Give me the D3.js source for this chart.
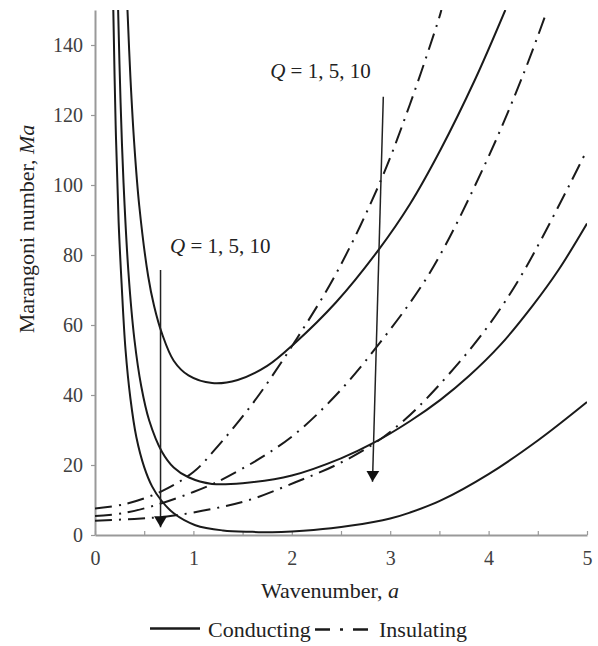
<!DOCTYPE html>
<html>
<head>
<meta charset="utf-8">
<script src="https://cdn.jsdelivr.net/npm/d3@7"></script>
<style>
  body { margin: 0; background: #fff; }
  svg { font-family: "Liberation Serif", "Times New Roman", serif; }
</style>
</head>
<body>
<div id="chart"></div>
<script>
// wavenumber a vs Marangoni number Ma
// conducting (solid) curves
const condQ1 = [[0.33,150],[0.36,130.7],[0.4,111.3],[0.45,94],[0.54,74],[0.6,65.5],[0.68,57.6],[0.8,49.8],
  [0.95,45.6],[1.19,43.4],[1.45,44.3],[1.75,48.3],[2.03,54.8],[2.45,66.5],[2.88,81.4],[3.2,94.5],
  [3.51,110],[3.86,130],[4.17,150]];
const condQ5 = [[0.235,150],[0.26,123.5],[0.29,100.6],[0.34,75],[0.4,56],[0.47,42.5],[0.55,32.8],[0.68,23.8],
  [0.8,19.3],[0.95,16.5],[1.19,14.6],[1.5,14.8],[2.0,17],[2.5,21.9],[2.83,26.3],[3.2,32.5],[3.51,38.6],
  [3.8,45.4],[4.12,54.3],[4.45,65.6],[4.71,75.7],[5.0,89]];
const condQ10 = [[0.186,150],[0.21,117],[0.24,89.5],[0.27,72],[0.31,53],[0.36,39],[0.42,28],[0.5,19.4],
  [0.58,13.9],[0.67,10],[0.8,6.2],[1.02,2.8],[1.3,1.3],[1.6,0.9],[1.8,0.8],[2.0,1.0],[2.4,1.9],
  [2.83,3.7],[3.0,4.7],[3.2,6.4],[3.51,9.8],[4.0,17.4],[4.5,27],[5.0,38]];
// insulating (dash-dot) curves
const insQ1 = [[0,7.6],[0.3,8.8],[0.67,12.4],[1.0,18],[1.2,23.8],[1.6,37.5],[2.03,55.2],[2.46,75.2],
  [2.9,101],[3.2,123],[3.5,148],[3.52,150]];
const insQ5 = [[0,5.4],[0.3,6.3],[0.67,9],[1.0,12.3],[1.2,14.6],[1.29,15.8],[1.7,22.3],[2.04,29],
  [2.45,40],[2.85,53.3],[3.4,74.8],[3.96,105.7],[4.35,131.4],[4.59,149.5]];
const insQ10 = [[0,4.1],[0.4,4.6],[0.73,5.3],[1.2,7.5],[1.6,10.3],[2.03,15],[2.45,20],[2.83,26],
  [3.15,33],[3.47,42],[3.95,58],[4.35,75],[5.0,110]];

// arrows: [start, end] in (a, Ma)
const arrowLow = [[0.666,75.7],[0.666,2.2]];
const arrowHigh = [[2.93,125.2],[2.82,15.2]];

const xTicks = [0, 0.5, 1, 1.5, 2, 2.5, 3, 3.5, 4, 4.5, 5];
const yTicks = [0, 20, 40, 60, 80, 100, 120, 140];
const qLabel = "= 1, 5, 10";

const width = 598, height = 646;

const svg = d3.select("#chart").append("svg")
    .attr("width", width)
    .attr("height", height)
    .style("background", "#fff");

const x = d3.scaleLinear().domain([0, 5]).range([95, 587]);
const y = d3.scaleLinear().domain([0, 150]).range([535, 10]);

svg.append("clipPath").attr("id", "plotClip")
  .append("rect")
    .attr("x", x(0)).attr("y", y(150))
    .attr("width", x(5) - x(0)).attr("height", y(0) - y(150));

// axes
const xAxis = svg.append("g")
    .attr("transform", `translate(0,${y(0)})`)
    .call(d3.axisBottom(x).tickValues(xTicks).tickSize(-4).tickSizeOuter(0).tickPadding(16)
        .tickFormat(d => Number.isInteger(d) ? d : ""));
const yAxis = svg.append("g")
    .attr("transform", `translate(${x(0)},0)`)
    .call(d3.axisLeft(y).tickValues(yTicks).tickSize(4).tickSizeOuter(0).tickPadding(8));

[xAxis, yAxis].forEach(g => {
  g.select(".domain").attr("stroke", "#999").attr("stroke-width", 2);
  g.selectAll(".tick line").attr("stroke", "#999").attr("stroke-width", 1.2);
  g.selectAll("text").attr("font-size", 20).attr("fill", "#404040")
    .attr("font-family", "'Liberation Serif', 'Times New Roman', serif");
});

// curves
const line = d3.line()
    .x(d => x(d[0]))
    .y(d => y(d[1]))
    .curve(d3.curveCatmullRom.alpha(0.5));

const plot = svg.append("g").attr("clip-path", "url(#plotClip)");

const series = [
  { data: condQ1, dash: null },
  { data: condQ5, dash: null },
  { data: condQ10, dash: null },
  { data: insQ1, dash: "17,7,2,7" },
  { data: insQ5, dash: "17,7,2,7" },
  { data: insQ10, dash: "17,7,2,7" }
];

plot.selectAll(".curve")
  .data(series)
  .enter()
  .append("path")
    .attr("class", "curve")
    .attr("d", d => line(d.data))
    .attr("fill", "none")
    .attr("stroke", "#1a1a1a")
    .attr("stroke-width", 2)
    .attr("stroke-dasharray", d => d.dash);

// arrow markers
svg.append("defs").append("marker")
    .attr("id", "head")
    .attr("markerUnits", "userSpaceOnUse")
    .attr("viewBox", "0 -7 12 14")
    .attr("refX", 11).attr("refY", 0)
    .attr("markerWidth", 12).attr("markerHeight", 14)
    .attr("orient", "auto")
  .append("path")
    .attr("d", "M0,-6.5L11,0L0,6.5Z")
    .attr("fill", "#111");

svg.selectAll(".arrow")
  .data([arrowLow, arrowHigh])
  .enter()
  .append("line")
    .attr("class", "arrow")
    .attr("x1", d => x(d[0][0])).attr("y1", d => y(d[0][1]))
    .attr("x2", d => x(d[1][0])).attr("y2", d => y(d[1][1]))
    .attr("stroke", "#222")
    .attr("stroke-width", 1.5)
    .attr("marker-end", "url(#head)");

// Q labels
const qPos = [[0.762, 80.6], [1.78, 130.6]];
qPos.forEach(p => {
  const t = svg.append("text")
      .attr("x", x(p[0])).attr("y", y(p[1]))
      .attr("font-size", 21).attr("fill", "#222");
  t.append("tspan").attr("font-style", "italic").text("Q");
  t.append("tspan").text(" " + qLabel);
});

// axis titles
const xt = svg.append("text")
    .attr("x", 330).attr("y", 598)
    .attr("text-anchor", "middle")
    .attr("font-size", 22).attr("fill", "#222");
xt.append("tspan").text("Wavenumber, ");
xt.append("tspan").attr("font-style", "italic").text("a");

const yt = svg.append("text")
    .attr("transform", "translate(34,229) rotate(-90)")
    .attr("text-anchor", "middle")
    .attr("font-size", 22).attr("fill", "#222");
yt.append("tspan").text("Marangoni number, ");
yt.append("tspan").attr("font-style", "italic").text("Ma");

// legend
const legend = svg.append("g");
legend.append("line")
    .attr("x1", 150).attr("x2", 200).attr("y1", 628.5).attr("y2", 628.5)
    .attr("stroke", "#1a1a1a").attr("stroke-width", 2.5);
legend.append("text")
    .attr("x", 208).attr("y", 637)
    .attr("font-size", 22).attr("fill", "#222")
    .text("Conducting");
legend.append("line")
    .attr("x1", 315).attr("x2", 368).attr("y1", 629.5).attr("y2", 629.5)
    .attr("stroke", "#1a1a1a").attr("stroke-width", 2.5)
    .attr("stroke-dasharray", "15,10,3,10");
legend.append("text")
    .attr("x", 379).attr("y", 637)
    .attr("font-size", 22).attr("fill", "#222")
    .text("Insulating");
</script>
</body>
</html>
